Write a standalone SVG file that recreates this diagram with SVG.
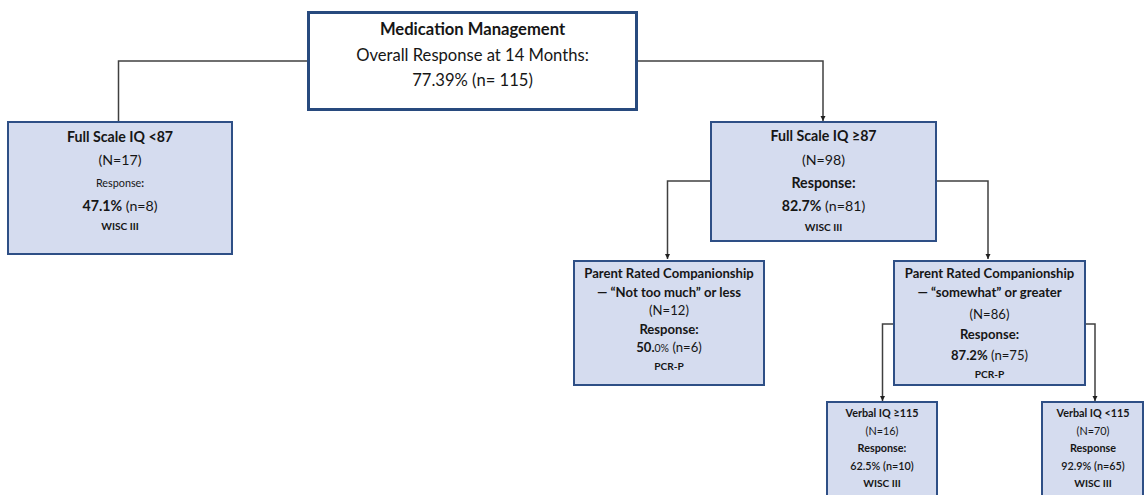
<svg xmlns="http://www.w3.org/2000/svg" width="1144" height="495" viewBox="0 0 1144 495">
<style>
text{font-family:Lato,"Open Sans","Liberation Sans",sans-serif;fill:#161616;text-anchor:middle}
.b{font-weight:bold}
.box{fill:#d5dcef;stroke:#2e4f86;stroke-width:2}
.root{fill:#fff;stroke:#284a7e;stroke-width:3}
.c{fill:none;stroke:#404040;stroke-width:1.5}
.t13{font-size:14.2px}
.t12{font-size:13.1px}
.t11{font-size:10.8px}
.t10{font-size:10.2px}
.r{font-size:16.6px}
</style>
<defs>
<marker id="ah" markerWidth="6" markerHeight="6" refX="5" refY="3" orient="auto" markerUnits="userSpaceOnUse">
<path d="M0,0.5 L5,3 L0,5.5 Z" fill="#202020"/>
</marker>
</defs>
<g id="connectors">
<path class="c" d="M308,61 H118.5 V121"/>
<path class="c" d="M637,61 H823 V121" marker-end="url(#ah)"/>
<path class="c" d="M711,181 H667.5 V259" marker-end="url(#ah)"/>
<path class="c" d="M936,181 H988 V259" marker-end="url(#ah)"/>
<path class="c" d="M894,324 H882.5 V401" marker-end="url(#ah)"/>
<path class="c" d="M1085,324 H1095 V401" marker-end="url(#ah)"/>
</g>
<g id="root">
<rect class="root" x="308.5" y="12.5" width="328" height="97"/>
<text x="472.5" y="35" class="b r">Medication Management</text>
<text x="472.5" y="61" class="r">Overall Response at 14 Months:</text>
<text x="472.5" y="86" class="r">77.39% (n= 115)</text>
</g>
<g id="fsiq-low">
<rect class="box" x="8" y="122" width="224" height="132"/>
<text x="120" y="142" class="b t13">Full Scale IQ &lt;87</text>
<text x="120" y="165" class="t13">(N=17)</text>
<text x="120" y="187" class="t11">Response<tspan class="b">:</tspan></text>
<text x="120" y="211" class="t13"><tspan class="b">47.1%</tspan> (n=8)</text>
<text x="120" y="230" class="b t10">WISC III</text>
</g>
<g id="fsiq-high">
<rect class="box" x="711" y="122" width="225" height="119"/>
<text x="823.5" y="141" class="b t13">Full Scale IQ ≥87</text>
<text x="823.5" y="165" class="t13">(N=98)</text>
<text x="823.5" y="188" class="b t13">Response:</text>
<text x="823.5" y="211" class="t13"><tspan class="b">82.7%</tspan> (n=81)</text>
<text x="823.5" y="231" class="b t10">WISC III</text>
</g>
<g id="pcr-low">
<rect class="box" x="574" y="261" width="190" height="124"/>
<text x="669" y="278" class="b t12">Parent Rated Companionship</text>
<text x="669" y="297" class="b t12">— “Not too much” or less</text>
<text x="669" y="315" class="t12">(N=12)</text>
<text x="669" y="334" class="b t12">Response:</text>
<text x="669" y="352" class="t12"><tspan class="b">50.</tspan><tspan font-size="10.5">0%</tspan> (n=6)</text>
<text x="669" y="370" class="b t10">PCR-P</text>
</g>
<g id="pcr-high">
<rect class="box" x="894" y="261" width="191" height="124"/>
<text x="989.5" y="278" class="b t12">Parent Rated Companionship</text>
<text x="989.5" y="297" class="b t12">— “somewhat” or greater</text>
<text x="989.5" y="319" class="t12">(N=86)</text>
<text x="989.5" y="339" class="b t12">Response:</text>
<text x="989.5" y="360" class="t12"><tspan class="b">87.2%</tspan> (n=75)</text>
<text x="989.5" y="378" class="b t10">PCR-P</text>
</g>
<g id="viq-high">
<rect class="box" x="827" y="402" width="110" height="100"/>
<text x="882" y="417" class="b t11">Verbal IQ ≥115</text>
<text x="882" y="435" class="t11">(N=16)</text>
<text x="882" y="452" class="b t11">Response:</text>
<text x="882" y="470" class="t11" font-weight="600">62.5% (n=10)</text>
<text x="882" y="487" class="b t10">WISC III</text>
</g>
<g id="viq-low">
<rect class="box" x="1042" y="402" width="101" height="100"/>
<text x="1093" y="417" class="b t11">Verbal IQ &lt;115</text>
<text x="1093" y="435" class="t11">(N=70)</text>
<text x="1093" y="452" class="b t11">Response</text>
<text x="1093" y="470" class="t11" font-weight="600">92.9% (n=65)</text>
<text x="1093" y="487" class="b t10">WISC III</text>
</g>
</svg>
